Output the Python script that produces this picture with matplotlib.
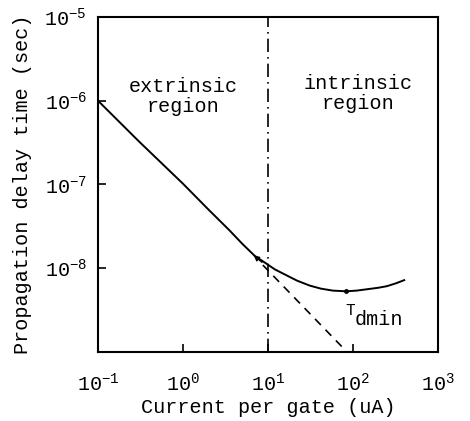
import matplotlib
matplotlib.use("Agg")
import matplotlib.pyplot as plt

plt.rcParams['font.family'] = ['Liberation Mono', 'DejaVu Sans Mono']
plt.rcParams['mathtext.fontset'] = 'custom'
plt.rcParams['mathtext.rm'] = 'Liberation Mono'
plt.rcParams['mathtext.it'] = 'Liberation Mono'
plt.rcParams['mathtext.bf'] = 'Liberation Mono'

# solid curve: delay vs current
current = [0.1, 0.3, 1, 2, 3.5, 5, 7, 8.5, 10, 12, 16.6, 22, 31, 42, 58, 83,
           110, 145, 200, 250, 320, 400]
delay = [1.0e-6, 3.3e-7, 1.02e-7, 5.0e-8, 2.85e-8, 1.95e-8, 1.4e-8, 1.23e-8,
         1.1e-8, 9.7e-9, 8.2e-9, 7.1e-9, 6.2e-9, 5.7e-9, 5.4e-9, 5.3e-9,
         5.4e-9, 5.6e-9, 5.85e-9, 6.1e-9, 6.6e-9, 7.2e-9]

# dashed extrapolation of the extrinsic slope
dash_current = [8.7, 85]
dash_delay = [1.09e-8, 1.0e-9]

tdmin_point = (83, 5.3e-9)

xticks = [0.1, 1, 10, 100, 1000]
xtick_labels = [r'$\mathregular{10^{-1}}$', r'$\mathregular{10^{0}}$', r'$\mathregular{10^{1}}$',
                r'$\mathregular{10^{2}}$', r'$\mathregular{10^{3}}$']
yticks = [1e-8, 1e-7, 1e-6, 1e-5]
ytick_labels = [r'$\mathregular{10^{-8}}$', r'$\mathregular{10^{-7}}$', r'$\mathregular{10^{-6}}$',
                r'$\mathregular{10^{-5}}$']

fig = plt.figure(figsize=(4.70, 4.21), dpi=100)
ax = fig.add_axes([0.2085, 0.164, 0.7234, 0.7957])
ax.set_xscale('log')
ax.set_yscale('log')
ax.set_xlim(0.1, 1000)
ax.set_ylim(1e-9, 1e-5)

ax.plot(current, delay, color='black', lw=1.4)
ax.plot(dash_current, dash_delay, color='black', lw=1.2, ls=(0, (5, 4)))
ax.plot([tdmin_point[0]], [tdmin_point[1]], marker='o', ms=2.5, color='black')
ax.axvline(10, color='black', lw=1.2, ls=(0, (8, 3, 1, 3)))
# small arrowhead where the two lines part
ax.annotate('', xy=(6.4, 1.5e-8), xytext=(9.0, 1.12e-8),
            arrowprops=dict(arrowstyle='-|>', color='black', lw=1.0,
                            mutation_scale=8))

ax.text(1.0, 1.12e-6, 'extrinsic\nregion', ha='center', va='center',
        fontsize=14.5, linespacing=1.1)
ax.text(115, 1.22e-6, 'intrinsic\nregion', ha='center', va='center',
        fontsize=14.5, linespacing=1.1)
ax.text(80.5, 3.1e-9, 'T', ha='left', va='center', fontsize=11.5)
ax.text(104, 2.43e-9, 'dmin', ha='left', va='center', fontsize=14.5)

ax.set_xticks(xticks)
ax.set_xticklabels(xtick_labels)
ax.set_yticks(yticks)
ax.set_yticklabels(ytick_labels)
ax.minorticks_off()
ax.tick_params(direction='in', length=6, width=1.2, labelsize=14.5, pad=8)
ax.tick_params(axis='x', pad=15)

for s in ax.spines.values():
    s.set_linewidth(1.5)

ax.set_xlabel('Current per gate (uA)', fontsize=14.5, labelpad=2)
ax.set_ylabel('Propagation delay time (sec)', fontsize=14.5, labelpad=9)

fig.savefig('out.png', dpi=100)
